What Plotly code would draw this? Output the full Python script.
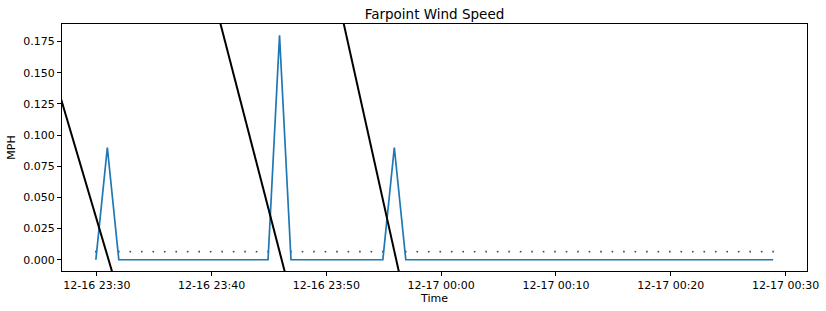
import pandas as pd
import plotly.graph_objects as go

# ---- data ----
times = pd.date_range("2023-12-16 23:29:55", periods=60, freq="min")

wind_mph = [
    0.0, 0.09, 0.0, 0.0, 0.0, 0.0, 0.0, 0.0, 0.0, 0.0,
    0.0, 0.0, 0.0, 0.0, 0.0, 0.0, 0.18, 0.0, 0.0, 0.0,
    0.0, 0.0, 0.0, 0.0, 0.0, 0.0, 0.09, 0.0, 0.0, 0.0,
    0.0, 0.0, 0.0, 0.0, 0.0, 0.0, 0.0, 0.0, 0.0, 0.0,
    0.0, 0.0, 0.0, 0.0, 0.0, 0.0, 0.0, 0.0, 0.0, 0.0,
    0.0, 0.0, 0.0, 0.0, 0.0, 0.0, 0.0, 0.0, 0.0, 0.0,
]

calm_marks = [
    0.0065, None, 0.0065, 0.0065, 0.0065, 0.0065, 0.0065, 0.0065, 0.0065, 0.0065,
    0.0065, 0.0065, 0.0065, 0.0065, 0.0065, 0.0065, None, 0.0065, 0.0065, 0.0065,
    0.0065, 0.0065, 0.0065, 0.0065, 0.0065, 0.0065, None, 0.0065, 0.0065, 0.0065,
    0.0065, 0.0065, 0.0065, 0.0065, 0.0065, 0.0065, 0.0065, 0.0065, 0.0065, 0.0065,
    0.0065, 0.0065, 0.0065, 0.0065, 0.0065, 0.0065, 0.0065, 0.0065, 0.0065, 0.0065,
    0.0065, 0.0065, 0.0065, 0.0065, 0.0065, 0.0065, 0.0065, 0.0065, 0.0065, 0.0065,
]

# black sloping segments (start/end time and value), separated by gaps
trend_times = [
    "2023-12-16 23:24:36", "2023-12-16 23:31:40", None,
    "2023-12-16 23:40:28", "2023-12-16 23:46:40", None,
    "2023-12-16 23:51:15", "2023-12-16 23:56:34",
]
trend_values = [0.2, -0.02, None, 0.2, -0.02, None, 0.2, -0.02]

x_range = ["2023-12-16 23:26:58", "2023-12-17 00:31:52"]
y_range = [-0.009, 0.189]
y_ticks = [0.0, 0.025, 0.05, 0.075, 0.1, 0.125, 0.15, 0.175]

FONT = "DejaVu Sans"

fig = go.Figure()
fig.add_trace(go.Scatter(
    x=times, y=calm_marks, mode="markers",
    marker=dict(symbol="square", size=1.6, color="#444444", line=dict(width=0)),
    showlegend=False,
))
fig.add_trace(go.Scatter(
    x=times, y=wind_mph, mode="lines",
    line=dict(color="#1f77b4", width=1.7),
    showlegend=False,
))
fig.add_trace(go.Scatter(
    x=trend_times, y=trend_values, mode="lines",
    line=dict(color="black", width=2),
    connectgaps=False, showlegend=False,
))

axis_common = dict(
    showline=True, mirror=True, linecolor="black", linewidth=1,
    ticks="outside", ticklen=4, tickwidth=1, tickcolor="black",
    showgrid=False, zeroline=False, automargin=False,
    tickfont=dict(family=FONT, size=11, color="black"),
)

fig.update_layout(
    width=826, height=311,
    margin=dict(l=62, r=19, t=24, b=40),
    paper_bgcolor="white", plot_bgcolor="white",
    font=dict(family=FONT, size=11, color="black"),
    title=dict(text="Farpoint Wind Speed", x=0.526, xanchor="center",
               y=1 - 14 / 311, yanchor="middle",
               font=dict(family=FONT, size=13.5, color="black")),
    xaxis=dict(
        **axis_common, type="date", range=x_range,
        tick0="2023-12-16 23:30:00", dtick=600000,
        tickformat="%m-%d %H:%M",
        title=dict(text="Time", standoff=3, font=dict(family=FONT, size=11)),
    ),
    yaxis=dict(
        **axis_common, range=y_range, tickvals=y_ticks, tickformat=".3f",
        title=dict(text="MPH", standoff=5, font=dict(family=FONT, size=11)),
    ),
)

fig.write_html("out.html")
